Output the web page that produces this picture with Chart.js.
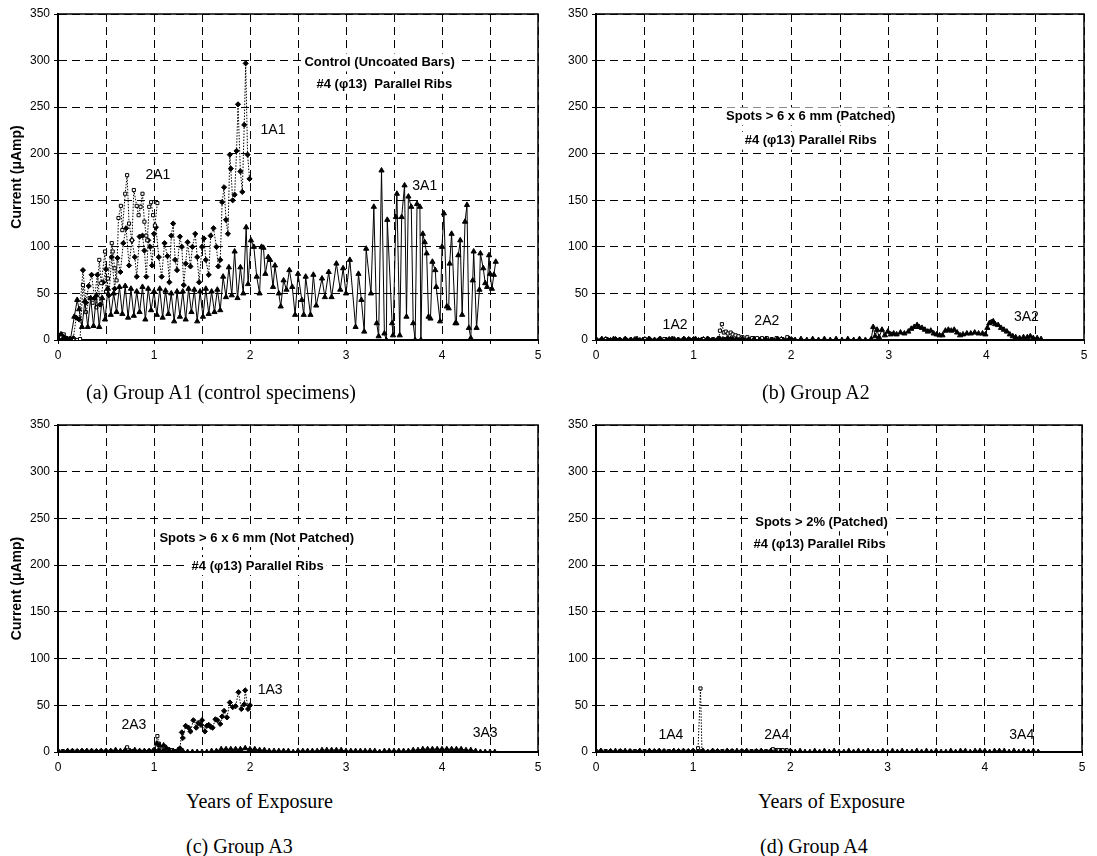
<!DOCTYPE html>
<html>
<head>
<meta charset="utf-8">
<script src="https://cdn.jsdelivr.net/npm/chart.js@4.4.0/dist/chart.umd.min.js"></script>
<style>
  body { margin: 0; background: #fff; }
  #wrap { position: relative; width: 1097px; height: 856px; overflow: hidden; background: #fff; }
  canvas { position: absolute; }
  .cap { position: absolute; font-family: "Liberation Serif", "Times New Roman", serif; font-size: 20px; color: #000; white-space: nowrap; line-height: 1; }
</style>
</head>
<body>
<div id="wrap">
  <canvas id="pa" width="548" height="366" style="left:0;top:0;width:548px;height:366px"></canvas>
  <canvas id="pb" width="549" height="366" style="left:548px;top:0;width:549px;height:366px"></canvas>
  <canvas id="pc" width="548" height="380" style="left:0;top:400px;width:548px;height:380px"></canvas>
  <canvas id="pd" width="549" height="380" style="left:548px;top:400px;width:549px;height:380px"></canvas>
  <div class="cap" style="left:86px;top:382px">(a) Group A1 (control specimens)</div>
  <div class="cap" style="left:762px;top:382px">(b) Group A2</div>
  <div class="cap" style="left:186px;top:791px">Years of Exposure</div>
  <div class="cap" style="left:758px;top:791px">Years of Exposure</div>
  <div class="cap" style="left:186px;top:836px">(c) Group A3</div>
  <div class="cap" style="left:760px;top:836px">(d) Group A4</div>
</div>
<script>
// tick labels
const xTicks = [0, 1, 2, 3, 4, 5];
const yTicks = [0, 50, 100, 150, 200, 250, 300, 350];

// ---- (a) Group A1 : [years, current uA] ----
const a1A1 = [[0,3],[0.04,6],[0.08,2],[0.12,1],[0.16,2],[0.19,24],[0.22,22],[0.26,75],[0.29,40],[0.32,58],[0.35,70],[0.38,45],[0.41,70],[0.44,38],[0.47,62],[0.5,76],[0.53,48],[0.56,89],[0.59,55],[0.62,88],[0.65,73],[0.68,104],[0.71,120],[0.74,80],[0.77,107],[0.8,89],[0.82,68],[0.85,111],[0.88,112],[0.9,96],[0.92,68],[0.94,107],[0.96,100],[0.98,80],[1.0,114],[1.02,121],[1.05,89],[1.08,68],[1.11,104],[1.14,90],[1.16,62],[1.18,112],[1.2,125],[1.22,86],[1.24,75],[1.27,111],[1.29,100],[1.31,59],[1.33,82],[1.35,105],[1.38,79],[1.4,100],[1.43,114],[1.45,89],[1.47,62],[1.5,100],[1.52,109],[1.54,86],[1.57,70],[1.59,112],[1.62,120],[1.65,100],[1.67,79],[1.69,86],[1.71,148],[1.73,164],[1.75,129],[1.77,114],[1.79,199],[1.8,184],[1.82,150],[1.84,156],[1.86,203],[1.875,253],[1.9,181],[1.92,159],[1.94,231],[1.955,297],[1.975,199],[1.995,173]];
const a2A1 = [[0,0],[0.03,3],[0.06,6],[0.09,2],[0.12,1],[0.16,0],[0.2,0],[0.23,1],[0.26,59],[0.29,30],[0.33,45],[0.36,40],[0.4,35],[0.43,86],[0.45,61],[0.49,95],[0.5,52],[0.52,66],[0.56,104],[0.57,95],[0.59,77],[0.61,64],[0.63,131],[0.655,144],[0.67,118],[0.7,157],[0.72,177],[0.74,125],[0.77,107],[0.79,161],[0.82,144],[0.84,134],[0.86,143],[0.88,157],[0.9,127],[0.92,112],[0.93,107],[0.95,143],[0.97,148],[0.99,134],[1.01,123],[1.035,147]];
const a3A1 = [[0,2],[0.03,6],[0.06,3],[0.09,1],[0.13,1],[0.17,25],[0.2,43],[0.22,33],[0.25,14],[0.28,42],[0.31,14],[0.34,45],[0.37,15],[0.4,48],[0.43,14],[0.46,45],[0.49,22],[0.52,55],[0.55,27],[0.58,50],[0.61,30],[0.64,57],[0.67,28],[0.7,58],[0.73,24],[0.76,55],[0.79,26],[0.82,52],[0.85,30],[0.88,57],[0.91,22],[0.94,55],[0.97,32],[1.0,52],[1.03,27],[1.06,55],[1.09,24],[1.12,53],[1.15,28],[1.18,50],[1.21,20],[1.24,52],[1.27,25],[1.3,52],[1.33,22],[1.36,55],[1.39,30],[1.42,54],[1.45,20],[1.48,52],[1.51,25],[1.54,55],[1.57,28],[1.6,52],[1.63,30],[1.66,54],[1.69,32],[1.72,68],[1.75,46],[1.78,78],[1.81,48],[1.84,95],[1.87,45],[1.9,78],[1.93,50],[1.96,121],[1.98,60],[2.01,107],[2.04,100],[2.07,68],[2.1,50],[2.12,100],[2.14,99],[2.16,71],[2.19,89],[2.21,86],[2.24,57],[2.26,80],[2.3,50],[2.32,36],[2.35,64],[2.38,54],[2.41,75],[2.44,57],[2.47,27],[2.5,71],[2.54,43],[2.56,27],[2.58,68],[2.63,27],[2.66,70],[2.69,37],[2.75,66],[2.78,46],[2.82,73],[2.85,46],[2.9,82],[2.94,54],[2.97,77],[3.0,50],[3.04,86],[3.1,14],[3.13,71],[3.16,43],[3.19,9],[3.21,98],[3.26,50],[3.29,143],[3.32,18],[3.34,4],[3.37,182],[3.4,7],[3.42,0],[3.43,129],[3.48,18],[3.49,5],[3.52,132],[3.53,157],[3.56,5],[3.58,132],[3.61,166],[3.63,25],[3.65,154],[3.68,143],[3.7,18],[3.72,0],[3.74,146],[3.77,143],[3.78,0],[3.8,114],[3.82,105],[3.84,93],[3.86,25],[3.88,23],[3.9,84],[3.93,75],[3.94,57],[3.98,20],[4.0,100],[4.02,136],[4.05,36],[4.07,34],[4.08,82],[4.1,114],[4.14,18],[4.15,18],[4.17,91],[4.19,107],[4.21,27],[4.24,127],[4.26,145],[4.28,13],[4.3,2],[4.32,64],[4.33,95],[4.36,13],[4.39,54],[4.4,93],[4.43,77],[4.45,61],[4.47,57],[4.49,91],[4.5,71],[4.52,55],[4.54,70],[4.56,84]];

// ---- (b) Group A2 ----
const b1A2 = [[0,1],[0.05,0],[0.1,1],[0.15,0],[0.2,1],[0.25,0],[0.3,1],[0.35,0],[0.4,1],[0.45,0],[0.5,1],[0.55,1],[0.6,0],[0.65,1],[0.7,0],[0.75,1],[0.8,1],[0.85,0],[0.9,1],[0.95,1],[1.0,1],[1.05,0],[1.1,1],[1.15,1],[1.2,0],[1.25,1],[1.3,1],[1.35,2],[1.4,1],[1.45,2],[1.5,1],[1.55,1],[1.6,1],[1.65,0],[1.7,1],[1.75,1],[1.8,0],[1.85,1],[1.9,1],[1.95,0],[2.0,1]];
const b2A2 = [[0,0],[0.1,1],[0.2,0],[0.3,1],[0.4,0],[0.5,1],[0.6,0],[0.7,1],[0.8,0],[0.9,1],[1.0,0],[1.1,1],[1.2,1],[1.26,2],[1.27,10],[1.29,17],[1.31,8],[1.33,9],[1.35,7],[1.38,8],[1.4,6],[1.43,5],[1.46,4],[1.5,3],[1.55,3],[1.6,2],[1.65,2],[1.7,2],[1.75,2],[1.8,1],[1.85,2],[1.9,1],[1.96,3]];
const b3A2 = [[0,0],[0.06,1],[0.12,0],[0.18,1],[0.24,0],[0.3,1],[0.36,0],[0.42,1],[0.48,0],[0.54,1],[0.6,0],[0.66,1],[0.72,0],[0.78,1],[0.84,0],[0.9,1],[0.96,0],[1.02,1],[1.08,0],[1.14,1],[1.2,0],[1.26,1],[1.32,0],[1.38,1],[1.44,0],[1.5,1],[1.56,0],[1.62,1],[1.68,0],[1.74,1],[1.8,0],[1.86,1],[1.92,0],[1.98,1],[2.04,0],[2.1,1],[2.16,0],[2.22,1],[2.28,0],[2.34,1],[2.4,0],[2.46,1],[2.52,0],[2.58,1],[2.64,0],[2.7,1],[2.76,0],[2.82,1],[2.84,14],[2.86,4],[2.88,11],[2.9,3],[2.93,11],[2.96,5],[2.99,9],[3.02,6],[3.05,7],[3.08,6],[3.12,8],[3.16,7],[3.2,9],[3.23,12],[3.26,14],[3.29,16],[3.31,14],[3.34,13],[3.37,11],[3.4,9],[3.43,10],[3.46,7],[3.49,6],[3.52,5],[3.55,5],[3.58,10],[3.61,11],[3.64,10],[3.67,11],[3.7,8],[3.73,5],[3.76,6],[3.8,7],[3.84,7],[3.88,8],[3.92,7],[3.96,7],[3.99,6],[4.01,13],[4.03,18],[4.05,19],[4.07,20],[4.09,17],[4.12,16],[4.15,13],[4.18,11],[4.21,9],[4.24,6],[4.27,4],[4.3,3],[4.34,2],[4.38,3],[4.42,3],[4.45,4],[4.48,2],[4.52,2],[4.56,1]];

// ---- (c) Group A3 ----
const c1A3 = [[0,1],[0.05,0],[0.1,1],[0.15,0],[0.2,1],[0.25,0],[0.3,1],[0.35,0],[0.4,1],[0.45,0],[0.5,1],[0.55,0],[0.6,1],[0.65,0],[0.7,1],[0.75,0],[0.8,1],[0.85,0],[0.9,1],[0.95,1],[1.0,2],[1.05,2],[1.1,1],[1.15,1],[1.2,1],[1.25,1],[1.27,4],[1.29,21],[1.3,15],[1.33,28],[1.36,26],[1.38,22],[1.41,34],[1.44,26],[1.46,31],[1.49,29],[1.5,34],[1.53,22],[1.55,28],[1.57,29],[1.59,27],[1.61,26],[1.64,35],[1.66,34],[1.69,30],[1.71,38],[1.73,44],[1.76,37],[1.79,53],[1.82,48],[1.85,49],[1.88,64],[1.91,46],[1.94,51],[1.95,66],[1.98,46],[2.0,50]];
const c2A3 = [[0,0],[0.05,1],[0.1,0],[0.15,1],[0.2,0],[0.25,1],[0.3,0],[0.35,1],[0.4,0],[0.45,1],[0.5,0],[0.55,1],[0.6,1],[0.65,0],[0.72,5],[0.78,1],[0.85,1],[0.9,0],[0.95,1],[1.0,2],[1.035,17],[1.05,9],[1.08,5],[1.11,6],[1.14,3],[1.18,2],[1.22,1],[1.27,1]];
const c3A3 = [[0,1],[0.05,0],[0.1,1],[0.15,1],[0.2,0],[0.25,1],[0.3,1],[0.35,1],[0.4,0],[0.45,1],[0.5,1],[0.55,1],[0.6,2],[0.65,1],[0.7,2],[0.75,1],[0.8,2],[0.85,1],[0.9,1],[0.95,1],[1.0,1],[1.03,9],[1.06,7],[1.1,7],[1.13,4],[1.16,2],[1.2,1],[1.25,2],[1.3,1],[1.35,0],[1.4,0],[1.45,0],[1.5,0],[1.55,0],[1.6,1],[1.65,1],[1.7,3],[1.75,3],[1.8,3],[1.85,3],[1.9,3],[1.95,4],[2.0,3],[2.05,3],[2.1,2],[2.15,2],[2.2,1],[2.25,1],[2.3,1],[2.35,1],[2.4,1],[2.45,0],[2.5,1],[2.55,1],[2.6,1],[2.65,1],[2.7,1],[2.75,2],[2.8,2],[2.85,2],[2.9,2],[2.95,2],[3.0,1],[3.05,1],[3.1,1],[3.15,1],[3.2,1],[3.25,1],[3.3,1],[3.35,0],[3.4,1],[3.45,1],[3.5,1],[3.55,1],[3.6,1],[3.65,1],[3.7,2],[3.75,2],[3.8,3],[3.85,3],[3.9,3],[3.95,3],[4.0,3],[4.05,3],[4.1,3],[4.15,3],[4.2,3],[4.25,2],[4.3,2],[4.35,1],[4.4,0],[4.45,0],[4.5,0],[4.55,0]];

// ---- (d) Group A4 ----
const d1A4 = [[0,0],[0.05,1],[0.1,0],[0.15,1],[0.2,0],[0.25,1],[0.3,0],[0.35,1],[0.4,0],[0.45,1],[0.5,0],[0.55,1],[0.6,1],[0.65,0],[0.7,1],[0.75,0],[0.8,1],[0.85,1],[0.9,0],[0.95,1],[1.0,1],[1.05,0],[1.1,1],[1.15,0],[1.2,1],[1.25,1],[1.3,0],[1.35,1],[1.4,1],[1.45,0],[1.5,1],[1.55,1],[1.6,0],[1.65,1],[1.7,1],[1.75,0],[1.8,1],[1.85,1],[1.9,1],[1.95,0],[2.0,1]];
const d2A4 = [[0,1],[0.05,0],[0.1,1],[0.15,0],[0.2,0],[0.25,1],[0.3,0],[0.35,0],[0.4,1],[0.45,0],[0.5,1],[0.55,0],[0.6,0],[0.65,1],[0.7,0],[0.75,1],[0.8,0],[0.85,0],[0.9,1],[0.95,0],[1.0,1],[1.05,4],[1.075,68],[1.09,1],[1.15,0],[1.2,1],[1.25,0],[1.3,1],[1.35,0],[1.4,1],[1.45,0],[1.5,1],[1.55,0],[1.6,1],[1.65,1],[1.7,0],[1.75,1],[1.82,3],[1.85,2],[1.88,2],[1.92,2],[1.96,2],[2.0,1]];
const d3A4 = [[0,0],[0.05,1],[0.1,0],[0.15,0],[0.2,1],[0.25,0],[0.3,1],[0.35,0],[0.4,0],[0.45,1],[0.5,0],[0.55,1],[0.6,0],[0.65,1],[0.7,0],[0.75,0],[0.8,1],[0.85,0],[0.9,1],[0.95,0],[1.0,1],[1.05,0],[1.1,1],[1.15,0],[1.2,1],[1.25,0],[1.3,0],[1.35,1],[1.4,0],[1.45,1],[1.5,0],[1.55,1],[1.6,0],[1.65,0],[1.7,1],[1.75,0],[1.8,1],[1.85,0],[1.9,1],[1.95,0],[2.0,1],[2.05,0],[2.1,1],[2.15,0],[2.2,0],[2.25,1],[2.3,0],[2.35,1],[2.4,0],[2.45,1],[2.5,0],[2.55,0],[2.6,1],[2.65,0],[2.7,1],[2.75,0],[2.8,1],[2.85,0],[2.9,0],[2.95,1],[3.0,0],[3.05,1],[3.1,0],[3.15,1],[3.2,0],[3.25,0],[3.3,1],[3.35,0],[3.4,1],[3.45,0],[3.5,1],[3.55,0],[3.6,0],[3.65,1],[3.7,0],[3.75,1],[3.8,1],[3.85,0],[3.9,1],[3.95,1],[4.0,1],[4.05,0],[4.1,1],[4.15,1],[4.2,1],[4.25,0],[4.3,1],[4.35,0],[4.4,1],[4.45,0],[4.5,1],[4.55,0]];

const pts = arr => arr.map(p => ({ x: p[0], y: p[1] }));

Chart.defaults.font.family = '"Liberation Sans", Arial, sans-serif';
Chart.defaults.color = '#000';

// marker/line style per specimen number (1 = diamond dotted, 2 = open square dotted, 3 = triangle solid)
function series(data, kind) {
  const base = { data: pts(data), showLine: true, borderColor: '#000', borderWidth: 1, pointBorderColor: '#000', pointBorderWidth: 1 };
  if (kind === 1) return Object.assign(base, { pointStyle: 'rectRot', pointRadius: 2.6, pointBackgroundColor: '#000', borderDash: [1.5, 1.5], order: 2 });
  if (kind === 2) return Object.assign(base, { pointStyle: 'rect', pointRadius: 2.2, pointBackgroundColor: '#fff', borderDash: [1.5, 1.5], order: 1 });
  return Object.assign(base, { pointStyle: 'triangle', pointRadius: 3, pointBackgroundColor: '#000', order: 0 });
}

const notesPlugin = {
  id: 'notes',
  afterDraw(chart, args, opts) {
    const { ctx, chartArea: a, scales: { x, y } } = chart;
    ctx.save();
    ctx.setLineDash([]);
    ctx.strokeStyle = '#000';
    ctx.lineWidth = 1.5;
    ctx.beginPath();
    ctx.moveTo(a.left, a.top);
    ctx.lineTo(a.right, a.top);
    ctx.lineTo(a.right, a.bottom);
    ctx.stroke();
    ctx.textAlign = 'center';
    ctx.textBaseline = 'middle';
    (opts.items || []).forEach(n => {
      ctx.font = n.font;
      const px = x.getPixelForValue(n.x), py = y.getPixelForValue(n.y);
      if (n.bg) {
        const w = ctx.measureText(n.text).width;
        ctx.fillStyle = '#fff';
        ctx.fillRect(px - w / 2 - 3, py - 9, w + 6, 18);
      }
      ctx.fillStyle = '#000';
      ctx.fillText(n.text, px, py);
    });
    ctx.restore();
  }
};

const boldF = 'bold 13px "Liberation Sans", Arial, sans-serif';
const labF = '14px "Liberation Sans", Arial, sans-serif';

function panel(id, datasets, box, notes, yTitle) {
  new Chart(document.getElementById(id), {
    type: 'scatter',
    data: { datasets: datasets },
    plugins: [notesPlugin],
    options: {
      responsive: false,
      animation: false,
      devicePixelRatio: 1,
      layout: { padding: { top: box.top, right: box.right, left: 0, bottom: 0 } },
      plugins: { legend: { display: false }, tooltip: { enabled: false }, notes: { items: notes } },
      scales: {
        x: {
          type: 'linear', min: 0, max: 5,
          afterFit: s => { s.height = box.xh; },
          grid: { color: '#000', lineWidth: 1, tickLength: 4, tickColor: '#000' },
          border: { display: true, color: '#000', width: 2, dash: [8, 5] },
          ticks: { stepSize: 0.5, autoSkip: false, maxRotation: 0, padding: 4, font: { size: 12 },
                   callback: v => xTicks.includes(v) ? String(v) : '' }
        },
        y: {
          type: 'linear', min: 0, max: 350,
          afterFit: s => { s.width = box.yw; },
          grid: { color: '#000', lineWidth: 1, tickLength: 4, tickColor: '#000' },
          border: { display: true, color: '#000', width: 2, dash: [8, 5] },
          title: { display: !!yTitle, text: 'Current (\u03bcAmp)', font: { size: 14, weight: 'bold' }, padding: { top: 9, bottom: 0 } },
          ticks: { stepSize: 50, autoSkip: false, padding: 4, font: { size: 12 },
                   callback: v => yTicks.includes(v) ? String(v) : '' }
        }
      }
    }
  });
}

panel('pa', [series(a1A1, 1), series(a2A1, 2), series(a3A1, 3)],
  { top: 14, right: 10, xh: 26, yw: 58 },
  [
    { text: 'Control (Uncoated Bars)', x: 3.35, y: 298, font: boldF, bg: true },
    { text: '#4 (\u03c613)  Parallel Ribs', x: 3.4, y: 274, font: boldF, bg: true },
    { text: '1A1', x: 2.24, y: 225, font: labF },
    { text: '2A1', x: 1.04, y: 177, font: labF },
    { text: '3A1', x: 3.82, y: 165, font: labF }
  ], true);

panel('pb', [series(b1A2, 1), series(b2A2, 2), series(b3A2, 3)],
  { top: 14, right: 13, xh: 26, yw: 48 },
  [
    { text: 'Spots > 6 x 6 mm (Patched)', x: 2.2, y: 240, font: boldF, bg: true },
    { text: '#4 (\u03c613) Parallel Ribs', x: 2.2, y: 214, font: boldF, bg: true },
    { text: '1A2', x: 0.81, y: 16, font: labF },
    { text: '2A2', x: 1.75, y: 20, font: labF },
    { text: '3A2', x: 4.41, y: 25, font: labF }
  ], false);

panel('pc', [series(c1A3, 1), series(c2A3, 2), series(c3A3, 3)],
  { top: 25, right: 10, xh: 28, yw: 58 },
  [
    { text: 'Spots > 6 x 6 mm (Not Patched)', x: 2.07, y: 229, font: boldF, bg: true },
    { text: '#4 (\u03c613) Parallel Ribs', x: 2.08, y: 199, font: boldF, bg: true },
    { text: '2A3', x: 0.79, y: 29, font: labF },
    { text: '1A3', x: 2.21, y: 66, font: labF },
    { text: '3A3', x: 4.45, y: 20, font: labF }
  ], true);

panel('pd', [series(d1A4, 1), series(d2A4, 2), series(d3A4, 3)],
  { top: 25, right: 15, xh: 28, yw: 48 },
  [
    { text: 'Spots > 2% (Patched)', x: 2.32, y: 246, font: boldF, bg: true },
    { text: '#4 (\u03c613) Parallel Ribs', x: 2.3, y: 222, font: boldF, bg: true },
    { text: '1A4', x: 0.77, y: 18, font: labF },
    { text: '2A4', x: 1.86, y: 18, font: labF },
    { text: '3A4', x: 4.38, y: 18, font: labF }
  ], false);
</script>
</body>
</html>
